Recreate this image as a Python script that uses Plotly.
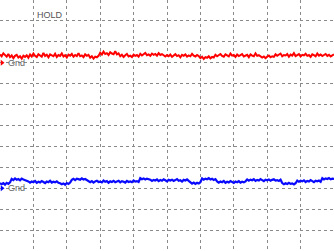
import plotly.graph_objects as go

# Horizontal position in divisions (10 divisions across the screen)
x_div = [i * 0.05 for i in range(201)]

# Channel 1 (red) trace, in vertical divisions
ch1 = [3.40, 3.31, 3.45, 3.36, 3.29, 3.42,
       3.27, 3.35, 3.22, 3.33, 3.38, 3.25, 3.31, 3.20, 3.34, 3.28, 3.36, 3.24,
       3.39, 3.30, 3.44, 3.33, 3.27, 3.41, 3.36, 3.29, 3.47, 3.32,
       3.38, 3.26, 3.40, 3.35, 3.31, 3.43, 3.28, 3.37, 3.33, 3.45,
       3.30, 3.36, 3.25, 3.39, 3.34, 3.42, 3.29, 3.37, 3.32, 3.46,
       3.31, 3.35, 3.27, 3.40, 3.33, 3.38,
       3.24, 3.31, 3.20, 3.29, 3.26, 3.33,
       3.48, 3.39, 3.53, 3.42, 3.46, 3.37, 3.50, 3.44, 3.41, 3.55, 3.40, 3.45,
       3.31, 3.38, 3.28, 3.36, 3.42, 3.30, 3.34, 3.27, 3.39, 3.33, 3.37, 3.29,
       3.43, 3.35, 3.41, 3.47, 3.36, 3.40, 3.33, 3.44, 3.38, 3.42, 3.34, 3.46, 3.37, 3.41, 3.36,
       3.30, 3.37, 3.31, 3.39, 3.28, 3.35, 3.41, 3.32, 3.36, 3.26,
       3.38, 3.33, 3.40, 3.29, 3.35, 3.31, 3.43, 3.34, 3.30, 3.37, 3.32,
       3.22, 3.29, 3.18, 3.27, 3.24, 3.31, 3.21, 3.28, 3.25,
       3.38, 3.31, 3.36, 3.42, 3.33, 3.29, 3.40, 3.35, 3.30, 3.44,
       3.34, 3.37, 3.28, 3.39, 3.32, 3.36, 3.41, 3.30, 3.35, 3.38,
       3.27, 3.40, 3.34, 3.31, 3.45, 3.33, 3.36,
       3.32, 3.25, 3.30, 3.22, 3.29, 3.34, 3.26, 3.31, 3.28,
       3.40, 3.33, 3.38, 3.44, 3.31, 3.37, 3.35, 3.42, 3.29, 3.39,
       3.34, 3.46, 3.32, 3.36, 3.41, 3.30, 3.38, 3.35, 3.43, 3.33,
       3.37, 3.28, 3.40, 3.36, 3.31, 3.44, 3.34, 3.39, 3.32, 3.37,
       3.42, 3.33, 3.38, 3.30, 3.36, 3.40]

# Channel 2 (blue) trace, in vertical divisions
ch2 = [-2.75, -2.81, -2.76, -2.83, -2.74, -2.79, -2.72,
       -2.55, -2.61, -2.53, -2.59, -2.56, -2.62, -2.54, -2.58, -2.60, -2.63,
       -2.67, -2.73, -2.68, -2.71, -2.65, -2.74, -2.69, -2.72, -2.66, -2.70,
       -2.75, -2.68, -2.71, -2.64, -2.73, -2.69, -2.72, -2.67, -2.74,
       -2.76, -2.81, -2.77, -2.83, -2.75, -2.79, -2.73,
       -2.60, -2.55, -2.61, -2.54, -2.57, -2.59, -2.53, -2.58, -2.56, -2.62,
       -2.65, -2.71, -2.66, -2.73, -2.67, -2.64, -2.70, -2.68, -2.72, -2.63,
       -2.69, -2.66, -2.74, -2.67, -2.70, -2.65, -2.71, -2.68, -2.64, -2.72,
       -2.66, -2.69, -2.73, -2.65, -2.70, -2.67, -2.71, -2.63, -2.68, -2.66, -2.70,
       -2.52, -2.57, -2.53, -2.58, -2.54, -2.56,
       -2.59, -2.65, -2.60, -2.63, -2.58, -2.66, -2.61, -2.64, -2.57, -2.62,
       -2.67, -2.60, -2.63, -2.59, -2.65, -2.61, -2.56, -2.64, -2.62, -2.68,
       -2.60, -2.63, -2.58, -2.65,
       -2.72, -2.78, -2.73, -2.79, -2.74, -2.77, -2.71,
       -2.53, -2.59, -2.54, -2.57, -2.52, -2.58, -2.55, -2.60, -2.56,
       -2.67, -2.73, -2.68, -2.71, -2.65, -2.74, -2.69, -2.72, -2.66, -2.70,
       -2.75, -2.68, -2.71, -2.66, -2.73, -2.69, -2.72, -2.67,
       -2.58, -2.64, -2.59, -2.62, -2.57, -2.65, -2.60, -2.63, -2.56, -2.61,
       -2.66, -2.59, -2.62, -2.58, -2.64, -2.60, -2.57, -2.63, -2.61, -2.65, -2.59,
       -2.75, -2.81, -2.76, -2.80, -2.74, -2.79, -2.77, -2.82, -2.76,
       -2.63, -2.69, -2.64, -2.67, -2.62, -2.70, -2.65, -2.68, -2.61, -2.66,
       -2.71, -2.64, -2.67, -2.63, -2.69,
       -2.52, -2.58, -2.53, -2.56, -2.51, -2.57, -2.54, -2.55]

gnd_levels = [3, -3]
gnd_colors = ["#ff0000", "#0000ff"]
x_grid = [1, 2, 3, 4, 5, 6, 7, 8, 9]
y_grid = [-5, -4, -3, -2, -1, 0, 1, 2, 3, 4, 5]

fig = go.Figure()

# Ground markers
fig.add_trace(go.Scatter(x=[0.06, 0.06], y=gnd_levels, mode="markers",
                         marker=dict(symbol="triangle-right", size=5, color=gnd_colors),
                         cliponaxis=False, hoverinfo="skip", showlegend=False))

fig.add_trace(go.Scatter(x=x_div, y=ch1, mode="lines",
                         line=dict(color="#ff0000", width=2),
                         showlegend=False))
fig.add_trace(go.Scatter(x=x_div, y=ch2, mode="lines",
                         line=dict(color="#0a0aff", width=2.2),
                         showlegend=False))

for lvl in gnd_levels:
    fig.add_annotation(x=0.17, y=lvl, text="Gnd", showarrow=False,
                       xanchor="left", yanchor="middle",
                       font=dict(family="Liberation Sans, Arial", size=9, color="#666666"))

fig.add_annotation(x=1.5, y=5.3, text="HOLD", showarrow=False,
                   xanchor="center", yanchor="middle",
                   font=dict(family="Liberation Sans, Arial", size=9, color="#555555"))

axis_common = dict(showticklabels=False, zeroline=False, showline=False,
                   ticks="", showgrid=True, gridcolor="#8a8a8a", gridwidth=1,
                   griddash="3px,3px", fixedrange=True)

fig.update_layout(
    width=334, height=251,
    margin=dict(l=0, r=0, t=0, b=0),
    paper_bgcolor="white", plot_bgcolor="white",
    xaxis=dict(range=[0, 10], tickmode="array", tickvals=x_grid, **axis_common),
    yaxis=dict(range=[-6, 6], tickmode="array", tickvals=y_grid, **axis_common),
    showlegend=False,
)

fig.write_html("out.html")
